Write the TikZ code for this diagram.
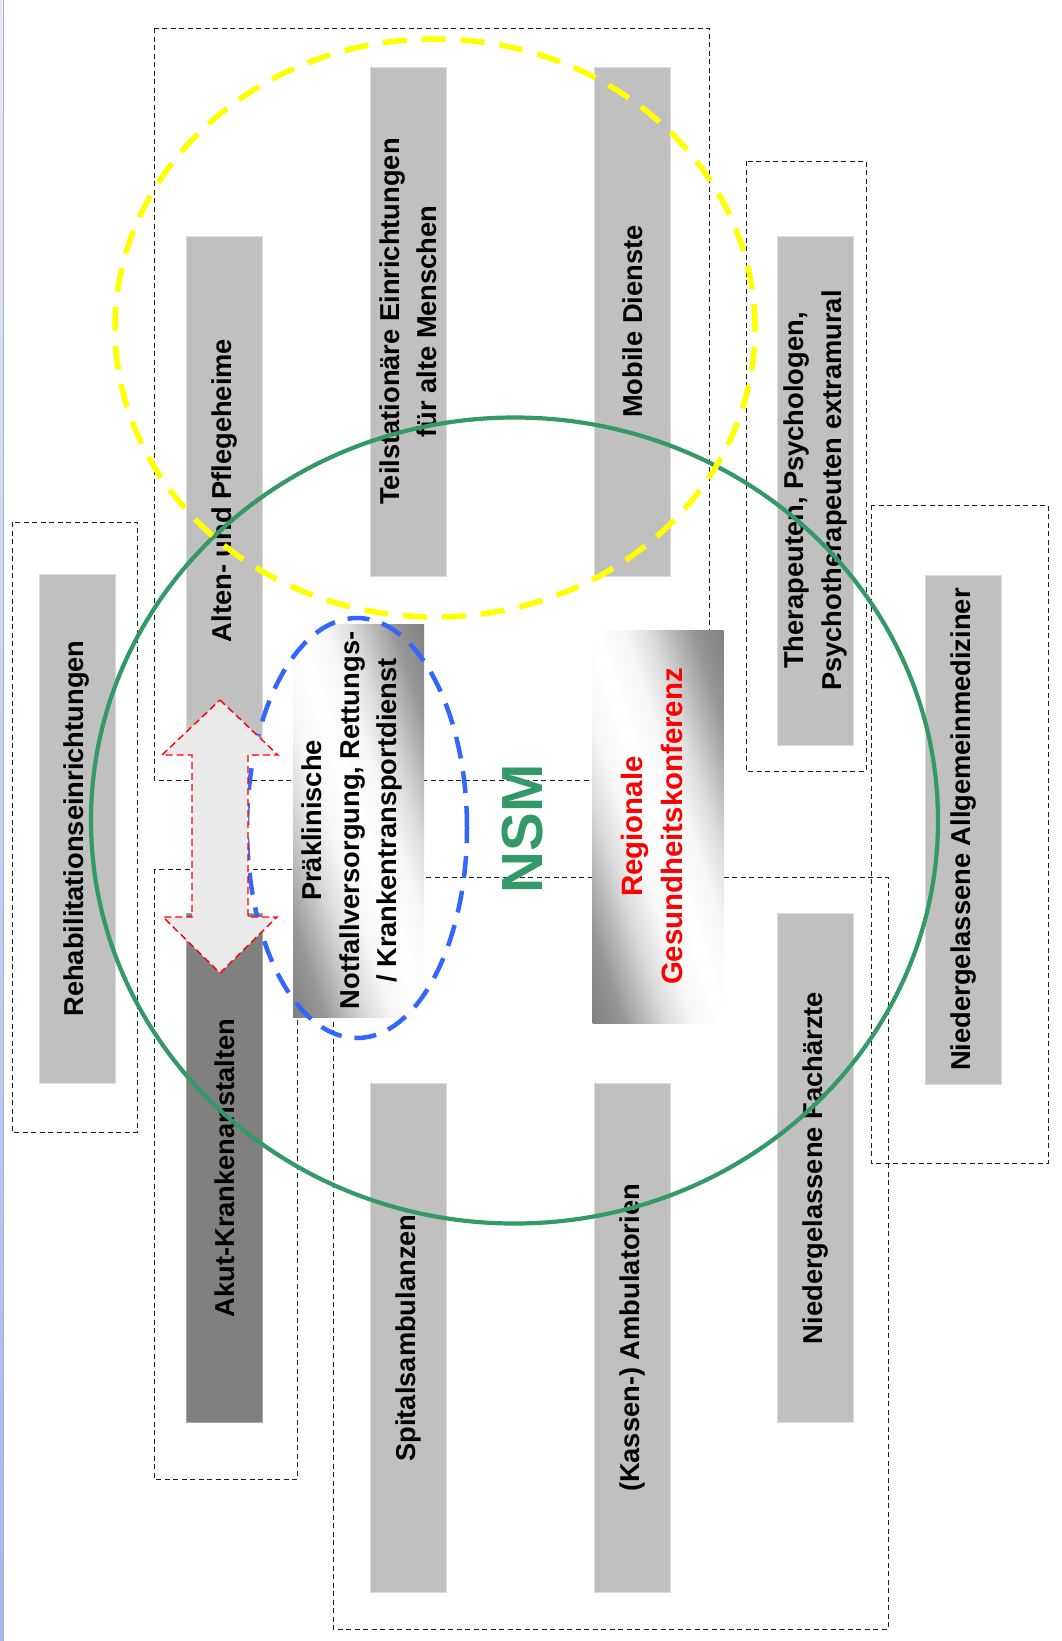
\documentclass[tikz,border=0pt]{standalone}
\usepackage{fontspec}
\setmainfont{Liberation Sans}
\definecolor{barg}{RGB}{192,192,192}
\definecolor{bardark}{RGB}{128,128,128}
\definecolor{gA}{RGB}{150,150,150}
\definecolor{gB}{RGB}{185,185,185}
\definecolor{gC}{RGB}{220,220,220}
\definecolor{gD}{RGB}{248,248,248}
\definecolor{nsmgreen}{RGB}{51,153,102}
\definecolor{ellblue}{RGB}{51,102,255}
\definecolor{ellyellow}{RGB}{255,255,0}
\definecolor{boxline}{RGB}{30,30,30}
\definecolor{arrowfill}{RGB}{234,234,234}
\definecolor{edgeblue}{RGB}{160,182,245}
\definecolor{edgelight}{RGB}{228,234,250}
\pgfdeclarehorizontalshading{diaggrad}{100bp}{color(0bp)=(bardark); color(14.6bp)=(bardark); color(22.8bp)=(gA); color(28.7bp)=(gB); color(34.7bp)=(gC); color(42bp)=(gD); color(50bp)=(white); color(58bp)=(gD); color(65.3bp)=(gC); color(71.3bp)=(gB); color(77.2bp)=(gA); color(85.4bp)=(bardark); color(100bp)=(bardark)}
\tikzset{
  grp/.style={draw=boxline, line width=1pt, dash pattern=on 5pt off 3.5pt},
  bar/.style={fill=barg, draw=barg!55!white, line width=0.7pt, inner sep=0pt,
    rotate=90, minimum width=509pt, minimum height=76pt, align=center,
    font=\bfseries\fontsize{27.3}{37.4}\selectfont},
  darkbar/.style={bar, fill=bardark, draw=bardark!70!white},
  gradframe/.style={inner sep=0pt, minimum width=131pt, minimum height=393pt},
  gradfill/.style={shading=diaggrad, shading angle=45},
  bodytxt/.style={rotate=90, align=center, inner sep=0pt,
    font=\bfseries\fontsize{27.3}{37.4}\selectfont},
  regtxt/.style={rotate=90, align=center, inner sep=0pt, text=red,
    font=\bfseries\fontsize{29.4}{40.3}\selectfont},
  nsmtxt/.style={rotate=90, inner sep=0pt, text=nsmgreen,
    font=\bfseries\fontsize{58}{60}\selectfont},
  greenring/.style={draw=nsmgreen, line width=4.2pt},
  yellowring/.style={draw=ellyellow, line width=5.5pt, dash pattern=on 24pt off 15pt},
  bluering/.style={draw=ellblue, line width=4.5pt, dash pattern=on 22pt off 13pt},
  dblarrow/.style={draw=red, fill=arrowfill, line width=1.4pt, dash pattern=on 7pt off 4pt, line join=miter}
}
\begin{document}
\begin{tikzpicture}[x=1pt,y=-1pt]
\useasboundingbox (0,0) rectangle (1061,1641);
\fill[white] (0,0) rectangle (1061,1641);
% left window edge
\shade[top color=edgelight, bottom color=edgeblue] (0,0) rectangle (3.3,1641);
\draw[gray!60, line width=0.8pt] (3.7,0) -- (3.7,1641);

% dashed group boxes
\draw[grp] (154,28) rectangle (709,780);
\draw[grp] (154,869) rectangle (297,1479);
\draw[grp] (333,877) rectangle (888,1629);
\draw[grp] (746,161) rectangle (866,771);
\draw[grp] (871,505) rectangle (1048,1163);
\draw[grp] (12,522) rectangle (137,1132);

% bars
\node[bar] (reha) at (77,828.5) {Rehabilitationseinrichtungen};
\node[bar] (alten) at (224.5,490.5) {Alten- und Pflegeheime};
\node[bar] (teil) at (408,321.5) {Teilstationäre Einrichtungen\\für alte Menschen};
\node[bar] (mobil) at (632.5,321.5) {Mobile Dienste};
\node[bar] (ther) at (815.5,490.5) {Therapeuten, Psychologen,\\Psychotherapeuten extramural};
\node[bar] (allg) at (963,829.5) {Niedergelassene Allgemeinmediziner};
\node[darkbar] (akut) at (224.5,1168) {Akut-Krankenanstalten};
\node[bar] (spital) at (408,1338) {Spitalsambulanzen};
\node[bar] (kassen) at (632.5,1338) {(Kassen-) Ambulatorien};
\node[bar] (fach) at (815.5,1168) {Niedergelassene Fachärzte};

% gradient boxes (square shading stretched onto the box)
\begin{scope}[transform canvas={shift={(358.5,820.5)}, xscale=1.31, yscale=3.93}]
  \shade[gradfill] (-50,-50) rectangle (50,50);
\end{scope}
\begin{scope}[transform canvas={shift={(658,826.5)}, xscale=1.31, yscale=3.93}]
  \shade[gradfill] (-50,-50) rectangle (50,50);
\end{scope}
\node[gradframe] (prae) at (358.5,820.5) {};
\node[bodytxt] (praetxt) at (prae.center) [yshift=6.5pt] {Präklinische\\Notfallversorgung, Rettungs-\\/ Krankentransportdienst};
\node[gradframe] (reg) at (658,826.5) {};
\node[regtxt] (regt) at (652,826.5) {Regionale\\Gesundheitskonferenz};

% NSM label
\node[nsmtxt] (nsm) at (523,829) {NSM};

% rings
\draw[greenring] (514.5,820.5) ellipse [x radius=423.5pt, y radius=403pt];
\draw[yellowring] (435,328) ellipse [x radius=320pt, y radius=289pt];
\draw[bluering] (357,828) ellipse [x radius=110pt, y radius=210pt];

% double arrow
\draw[dblarrow] (220,700) -- (278,755) -- (248,755) -- (248,917) -- (277,917)
  -- (220,973) -- (163,917) -- (192,917) -- (192,755) -- (162,755) -- cycle;
\end{tikzpicture}
\end{document}
